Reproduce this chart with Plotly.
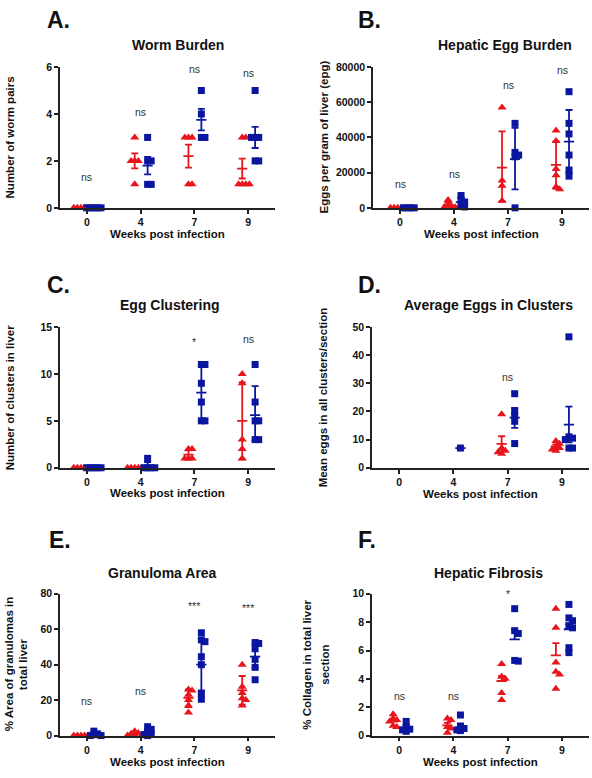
import plotly.graph_objects as go

# ---------------- data ----------------
WEEKS = ["0", "4", "7", "9"]

# A. Worm Burden
A_red = [[0, 0, 0, 0, 0], [3, 2, 2, 2, 1], [3, 3, 3, 1, 1], [3, 3, 1, 1, 1, 1]]
A_blue = [[0, 0, 0, 0, 0], [3, 2, 2, 1, 1], [5, 4, 3, 3], [5, 3, 3, 3, 2, 2]]
A_red_mean = [0, 2.0, 2.2, 1.67]
A_red_lo = [0, 1.68, 1.71, 1.25]
A_red_hi = [0, 2.32, 2.69, 2.1]
A_blue_mean = [0, 1.8, 3.75, 3.0]
A_blue_lo = [0, 1.43, 3.3, 2.55]
A_blue_hi = [0, 2.17, 4.22, 3.45]
A_sig = ["ns", "ns", "ns", "ns"]
A_sig_y = [1.32, 4.09, 5.9, 5.76]

# B. Hepatic Egg Burden
B_red = [[0, 0, 0, 0], [4500, 2000, 1000, 500, 300], [57000, 15500, 12500, 4000],
         [44000, 38000, 22000, 18500, 12000, 10500]]
B_blue = [[0, 0, 0, 0], [7000, 4500, 3300, 1000, 500], [48000, 31500, 30000, 29000, 0],
          [66000, 48000, 42000, 30000, 21500, 18000]]
B_red_mean = [0, 1660, 22900, 24400]
B_red_lo = [0, 0, 3600, 10800]
B_red_hi = [0, 3300, 43500, 37800]
B_blue_mean = [0, 3260, 27700, 37600]
B_blue_lo = [0, 700, 10500, 20000]
B_blue_hi = [0, 5800, 45500, 55600]
B_sig = ["ns", "ns", "ns", "ns"]
B_sig_y = [13400, 19000, 69800, 78500]

# C. Egg Clustering
C_red = [[0, 0, 0, 0, 0], [0, 0, 0, 0, 0], [2, 2, 1, 1, 1], [10, 9, 3, 2, 1]]
C_blue = [[0, 0, 0, 0, 0], [1, 0, 0, 0, 0], [11, 11, 9, 7, 5, 5], [11, 7, 5, 5, 3, 3]]
C_red_mean = [0, 0, 1.4, 5.0]
C_red_lo = [0, 0, 0.95, 0.9]
C_red_hi = [0, 0, 1.85, 9.1]
C_blue_mean = [0, 0.2, 8.0, 5.6]
C_blue_lo = [0, 0, 5.1, 2.9]
C_blue_hi = [0, 0.6, 10.9, 8.7]
C_sig = ["", "", "*", "ns"]
C_sig_y = [None, None, 13.4, 13.7]

# D. Average Eggs in Clusters
D_red = [[], [], [19, 7, 6, 5, 5.5], [9.5, 8.5, 7.5, 7, 6.5, 6]]
D_blue = [[], [7], [26.3, 20, 18.5, 16.5, 8.6], [46.5, 11, 10.5, 10, 7, 7]]
D_red_mean = [None, None, 8.5, 7.6]
D_red_lo = [None, None, 5.9, 6.9]
D_red_hi = [None, None, 11.2, 8.3]
D_blue_mean = [None, 7.0, 17.8, 15.3]
D_blue_lo = [None, 7.0, 14.2, 9.0]
D_blue_hi = [None, 7.0, 21.3, 21.7]
D_sig = ["", "", "ns", "ns"]
D_sig_y = [None, None, 32.2, 50.7]

# E. Granuloma Area
E_red = [[0, 0, 0, 0, 0, 0], [2.5, 1.5, 1, 0.5, 0, 0], [26, 25.5, 23, 20, 17, 13],
         [40, 27.5, 24, 21, 20, 17]]
E_blue = [[2.5, 1, 0.5, 0, 0], [5, 3.5, 2, 1, 0.5, 0], [58, 54, 53, 44.5, 40, 24, 20.5],
          [52.5, 52, 49, 43, 38.5, 31.5]]
E_red_mean = [0, 0.9, 21.3, 25.5]
E_red_lo = [0, 0.2, 16.0, 17.5]
E_red_hi = [0, 1.6, 26.0, 33.6]
E_blue_mean = [0.8, 2.0, 40.0, 44.5]
E_blue_lo = [0, 0.2, 24.9, 38.0]
E_blue_hi = [1.9, 3.8, 54.7, 51.6]
E_sig = ["ns", "ns", "***", "***"]
E_sig_y = [19.5, 25, 73.3, 71.8]

# F. Hepatic Fibrosis
F_red = [[1.5, 1.2, 1.1, 1.0, 0.7, 0.6], [1.2, 1.1, 0.6, 0.5, 0.2], [5.05, 4.15, 4.0, 3.0, 2.5],
         [8.95, 7.6, 5.15, 4.5, 4.3, 3.3]]
F_blue = [[1.0, 0.6, 0.45, 0.4, 0.3], [1.45, 0.6, 0.5, 0.4, 0.35], [8.95, 7.4, 7.2, 5.3, 5.25],
          [9.25, 8.3, 8.1, 7.75, 7.6, 6.2, 5.85]]
F_red_mean = [0.98, 0.72, 3.85, 5.66]
F_red_lo = [0.98, 0.72, 3.85, 5.66]
F_red_hi = [1.15, 0.9, 4.2, 6.52]
F_blue_mean = [0.55, 0.5, 6.78, 7.5]
F_blue_lo = [0.55, 0.5, 6.78, 7.5]
F_blue_hi = [0.7, 0.86, 7.48, 7.85]
F_sig = ["ns", "ns", "*", "ns"]
F_sig_y = [2.8, 2.76, 9.98, 10.1]

LETTERS = ["A.", "B.", "C.", "D.", "E.", "F."]
TITLES = ["Worm Burden", "Hepatic Egg Burden", "Egg Clustering",
          "Average Eggs in Clusters", "Granuloma Area", "Hepatic Fibrosis"]
YTITLES = [["Number of worm pairs"], ["Eggs per gram of liver (epg)"],
           ["Number of clusters in liver"], ["Mean eggs in all clusters/section"],
           ["% Area of granulomas in", "total liver"],
           ["% Collagen in total liver", "section"]]
XTITLE = "Weeks post infection"
YMAX = [6, 80000, 15, 50, 80, 10]
YTICKS = [[0, 2, 4, 6], [0, 20000, 40000, 60000, 80000], [0, 5, 10, 15],
          [0, 10, 20, 30, 40, 50], [0, 20, 40, 60, 80], [0, 2, 4, 6, 8, 10]]

# ---------------- layout constants ----------------
W, H = 592, 778
RED = "#E8151D"
BLUE = "#0B169F"
AX = "#222222"
FONT = "Liberation Sans"
BOX = [(60, 275, 62, 205), (373, 589, 62, 205), (60, 275, 326, 469),
       (372, 589, 326, 469), (60, 275, 597, 741), (372, 589, 597, 741)]
TITLE_POS = [(178, 40), (505, 40), (170, 304), (488, 304), (162, 576), (488, 576)]
LETTER_POS = [(45, 14), (356, 14), (45, 283), (356, 283), (47, 542), (356, 542)]
XTITLE_Y = [232, 232, 495, 496, 768, 768]
YTITLE_X = [[10], [324], [10], [323], [8.5, 22.5], [307, 325]]
RED_OFF, BLUE_OFF = -0.11, 0.13
MEAN_HW, CAP_HW = 0.095, 0.065


def px(x):
    return x / W


def py(y):
    return 1 - y / H


def swarm(vals, center, ppu_y, ppu_x, step=3.6, r=3.6):
    placed, xs = [], []
    for v in vals:
        yp = v * ppu_y
        k = 0
        while True:
            off = 0 if k == 0 else ((k + 1) // 2) * step * (1 if k % 2 == 1 else -1)
            if all((off - a) ** 2 + (yp - b) ** 2 >= r * r - 1e-9 for a, b in placed):
                break
            k += 1
        placed.append((off, yp))
        xs.append(center + off / ppu_x)
    return xs


def bar_xy(means, los, his, off):
    xs, ys = [], []
    for i, (m, lo, hi) in enumerate(zip(means, los, his)):
        if m is None:
            continue
        c = i + off
        if hi != lo:
            xs += [c, c, None]
            ys += [lo, hi, None]
            xs += [c - CAP_HW, c + CAP_HW, None]
            ys += [hi, hi, None]
            if lo != m:
                xs += [c - CAP_HW, c + CAP_HW, None]
                ys += [lo, lo, None]
        xs += [c - MEAN_HW, c + MEAN_HW, None]
        ys += [m, m, None]
    return xs, ys


PANELS = [
    (A_red, A_blue, A_red_mean, A_red_lo, A_red_hi, A_blue_mean, A_blue_lo, A_blue_hi, A_sig, A_sig_y),
    (B_red, B_blue, B_red_mean, B_red_lo, B_red_hi, B_blue_mean, B_blue_lo, B_blue_hi, B_sig, B_sig_y),
    (C_red, C_blue, C_red_mean, C_red_lo, C_red_hi, C_blue_mean, C_blue_lo, C_blue_hi, C_sig, C_sig_y),
    (D_red, D_blue, D_red_mean, D_red_lo, D_red_hi, D_blue_mean, D_blue_lo, D_blue_hi, D_sig, D_sig_y),
    (E_red, E_blue, E_red_mean, E_red_lo, E_red_hi, E_blue_mean, E_blue_lo, E_blue_hi, E_sig, E_sig_y),
    (F_red, F_blue, F_red_mean, F_red_lo, F_red_hi, F_blue_mean, F_blue_lo, F_blue_hi, F_sig, F_sig_y),
]

fig = go.Figure()
annotations = []
layout = {}

for p, (red, blue, rm, rl, rh, bm, bl, bh, sig, sig_y) in enumerate(PANELS):
    n = "" if p == 0 else str(p + 1)
    xa, ya = "x" + n, "y" + n
    x0, x1, y0, y1 = BOX[p]
    ppu_x = (x1 - x0) / 4.0
    ppu_y = (y1 - y0) / YMAX[p]

    # points
    rx, ry, bx, byy = [], [], [], []
    for i in range(4):
        rx += swarm(red[i], i + RED_OFF, ppu_y, ppu_x)
        ry += red[i]
        bx += swarm(blue[i], i + BLUE_OFF, ppu_y, ppu_x)
        byy += blue[i]
    fig.add_trace(go.Scatter(x=rx, y=ry, mode="markers", xaxis=xa, yaxis=ya,
                             marker=dict(symbol="triangle-up", size=8, color=RED, line=dict(width=0)),
                             cliponaxis=False, showlegend=False, hoverinfo="skip"))
    fig.add_trace(go.Scatter(x=bx, y=byy, mode="markers", xaxis=xa, yaxis=ya,
                             marker=dict(symbol="square", size=7, color=BLUE, line=dict(width=0)),
                             cliponaxis=False, showlegend=False, hoverinfo="skip"))
    # mean +/- error bars
    for means, los, his, off, col in [(rm, rl, rh, RED_OFF, RED), (bm, bl, bh, BLUE_OFF, BLUE)]:
        ex, ey = bar_xy(means, los, his, off)
        fig.add_trace(go.Scatter(x=ex, y=ey, mode="lines", xaxis=xa, yaxis=ya,
                                 line=dict(color=col, width=1.8), cliponaxis=False,
                                 showlegend=False, hoverinfo="skip"))

    # axes
    layout["xaxis" + n] = dict(
        domain=[px(x0), px(x1)], anchor=ya, range=[-0.5, 3.5],
        tickvals=[0, 1, 2, 3], ticktext=WEEKS, showline=True, linecolor=AX, linewidth=1.6,
        ticks="outside", ticklen=4, tickwidth=1.5, tickcolor=AX, showgrid=False,
        zeroline=False, fixedrange=True,
        tickfont=dict(family=FONT, size=10.5, color="#111", weight="bold"))
    layout["yaxis" + n] = dict(
        domain=[py(y1), py(y0)], anchor=xa, range=[0, YMAX[p]],
        tickvals=YTICKS[p], ticktext=[str(v) for v in YTICKS[p]],
        showline=True, linecolor=AX, linewidth=1.6,
        ticks="outside", ticklen=4, tickwidth=1.5, tickcolor=AX, showgrid=False,
        zeroline=False, fixedrange=True,
        tickfont=dict(family=FONT, size=10.5, color="#111", weight="bold"))

    # significance labels
    for i in range(4):
        if sig[i]:
            annotations.append(dict(x=i, y=sig_y[i], xref=xa, yref=ya, text=sig[i],
                                    showarrow=False, xanchor="center", yanchor="middle",
                                    font=dict(family=FONT, size=10.5, color="#333")))
    # titles
    tx, ty = TITLE_POS[p]
    annotations.append(dict(x=px(tx), y=py(ty), xref="paper", yref="paper", text=TITLES[p],
                            showarrow=False, xanchor="center", yanchor="middle",
                            font=dict(family=FONT, size=14, color="#111", weight="bold")))
    lx, ly = LETTER_POS[p]
    annotations.append(dict(x=px(lx), y=py(ly), xref="paper", yref="paper", text=LETTERS[p],
                            showarrow=False, xanchor="left", yanchor="middle",
                            font=dict(family=FONT, size=23, color="#111", weight="bold")))
    annotations.append(dict(x=px((x0 + x1) / 2), y=py(XTITLE_Y[p]), xref="paper", yref="paper",
                            text=XTITLE, showarrow=False, xanchor="center", yanchor="middle",
                            font=dict(family=FONT, size=11.5, color="#111", weight="bold")))
    for line, lxp in zip(YTITLES[p], YTITLE_X[p]):
        annotations.append(dict(x=px(lxp), y=py((y0 + y1) / 2), xref="paper", yref="paper",
                                text=line, textangle=-90, showarrow=False,
                                xanchor="center", yanchor="middle",
                                font=dict(family=FONT, size=11.5, color="#111", weight="bold")))

fig.update_layout(width=W, height=H, margin=dict(l=0, r=0, t=0, b=0),
                  paper_bgcolor="white", plot_bgcolor="white",
                  annotations=annotations, showlegend=False, **layout)

fig.write_html("out.html", config={"displayModeBar": False},
               post_script="document.body.style.margin='0';document.body.style.padding='0';")
